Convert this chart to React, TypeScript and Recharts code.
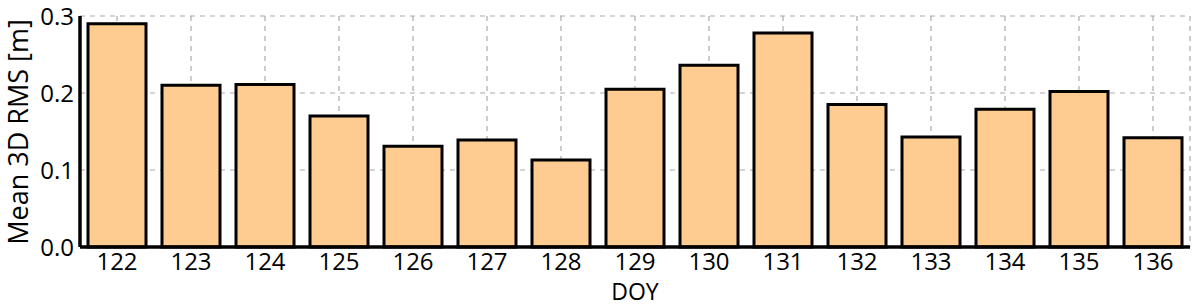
import {
  BarChart,
  Bar,
  XAxis,
  YAxis,
  CartesianGrid,
} from "recharts";

const days = [
  "122", "123", "124", "125", "126", "127", "128", "129",
  "130", "131", "132", "133", "134", "135", "136",
];

const meanRms = [
  0.29, 0.21, 0.211, 0.17, 0.131, 0.139, 0.113, 0.205,
  0.236, 0.278, 0.185, 0.143, 0.179, 0.202, 0.142,
];

const yTicks = [0, 0.1, 0.2, 0.3];

const data = days.map((day, i) => ({ day, rms: meanRms[i] }));

const FONT = "'Open Sans', sans-serif";

function YLabel() {
  return (
    <text
      x={17}
      y={132}
      transform="rotate(-90 17 132)"
      textAnchor="middle"
      dominantBaseline="central"
      fill="#000"
      fontSize={27}
      fontFamily={FONT}
    >
      Mean 3D RMS [m]
    </text>
  );
}

export default function App() {
  return (
    <div style={{ position: "absolute", left: 0, top: 0, background: "#fff" }}>
      <BarChart
        width={1200}
        height={305}
        data={data}
        margin={{ top: 16, right: 10, left: 0, bottom: 0 }}
        barCategoryGap={8}
        style={{ fontFamily: FONT }}
      >
        <CartesianGrid
          stroke="#aaa"
          strokeDasharray="5 5"
          strokeWidth={1.2}
        />
        <XAxis
          xAxisId="top"
          dataKey="day"
          orientation="top"
          height={0}
          tick={false}
          tickLine={false}
          axisLine={{ stroke: "#000", strokeWidth: 3.5 }}
        />
        <YAxis
          yAxisId="right"
          orientation="right"
          width={0}
          domain={[0, 0.3]}
          ticks={yTicks}
          tick={false}
          tickLine={false}
          axisLine={{ stroke: "#000", strokeWidth: 3.5 }}
        />
        <XAxis
          dataKey="day"
          height={58}
          tickLine={false}
          tickSize={0}
          tickMargin={6}
          axisLine={{ stroke: "#000", strokeWidth: 3.5 }}
          tick={{ fill: "#000", fontSize: 24, fontFamily: FONT }}
          label={{
            value: "DOY",
            position: "insideBottom",
            offset: 5,
            fill: "#000",
            fontSize: 23,
            fontFamily: FONT,
          }}
        />
        <YAxis
          width={80}
          domain={[0, 0.3]}
          ticks={yTicks}
          tickLine={false}
          tickSize={0}
          tickMargin={6}
          tickFormatter={(v: number) => v.toFixed(1)}
          axisLine={{ stroke: "#000", strokeWidth: 3.5 }}
          tick={{ fill: "#000", fontSize: 24, fontFamily: FONT }}
          label={<YLabel />}
        />
        <Bar
          dataKey="rms"
          fill="#FECC90"
          stroke="#000"
          strokeWidth={3}
          isAnimationActive={false}
        />
      </BarChart>
    </div>
  );
}
